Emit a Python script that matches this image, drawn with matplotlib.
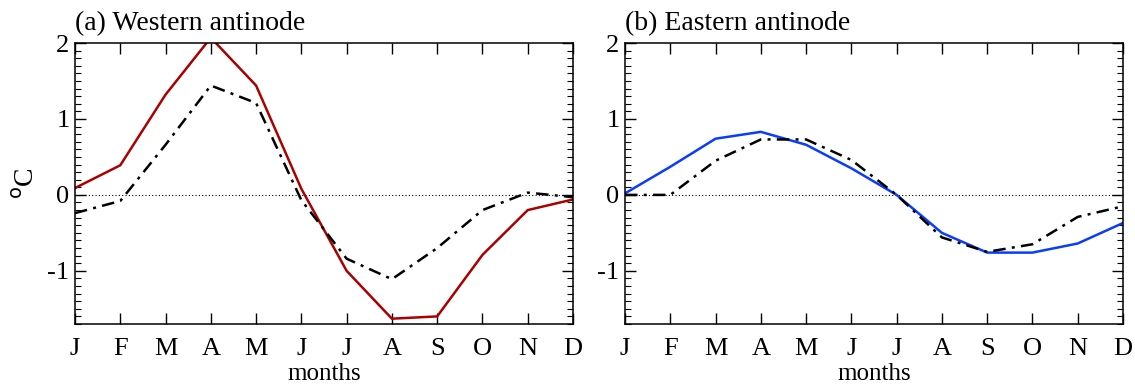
import numpy as np
import matplotlib
matplotlib.use("Agg")
import matplotlib.pyplot as plt
from matplotlib.ticker import MultipleLocator

plt.rcParams['font.family'] = ['Liberation Serif', 'DejaVu Serif']

months = ['J', 'F', 'M', 'A', 'M', 'J', 'J', 'A', 'S', 'O', 'N', 'D']

# western antinode
west_obs = [0.09, 0.39, 1.32, 2.07, 1.44, 0.08, -1.0, -1.63, -1.60, -0.79, -0.20, -0.06]
west_mod = [-0.24, -0.08, 0.66, 1.44, 1.21, -0.07, -0.84, -1.11, -0.70, -0.20, 0.03, -0.03]
# eastern antinode
east_obs = [0.02, 0.37, 0.74, 0.83, 0.66, 0.35, 0.0, -0.50, -0.76, -0.76, -0.64, -0.37]
east_mod = [0.0, 0.0, 0.45, 0.73, 0.73, 0.46, 0.0, -0.56, -0.75, -0.65, -0.29, -0.15]

titles = ['(a) Western antinode', '(b) Eastern antinode']
obs_colors = ['#aa0000', '#0a3cff']

fig = plt.figure(figsize=(11.35, 3.9), dpi=100)
ax1 = fig.add_axes([75/1135, 1-324/390, 498/1135, 281/390])
ax2 = fig.add_axes([625/1135, 1-324/390, 498/1135, 281/390])

x = np.arange(12)
for ax, obs, mod, t, c in zip([ax1, ax2], [west_obs, east_obs], [west_mod, east_mod], titles, obs_colors):
    ax.axhline(0, color='k', ls=(0, (1, 2)), lw=0.8)
    ax.plot(x, obs, color=c, lw=1.8)
    ax.plot(x, mod, color='k', lw=1.8, dashes=(5, 2.5, 1.2, 2.5))
    ax.set_xlim(0, 11)
    ax.set_ylim(-1.7, 2.0)
    ax.set_xticks(x)
    ax.set_xticklabels(months)
    ax.set_yticks([-1, 0, 1, 2])
    ax.set_yticklabels(['-1', '0', '1', '2'])
    ax.yaxis.set_minor_locator(MultipleLocator(0.1))
    ax.tick_params(direction='in', top=True, right=True, labelsize=19, length=8, width=1, pad=10)
    ax.tick_params(which='minor', direction='in', right=True, length=4, width=0.8)
    ax.tick_params(axis='y', pad=4)
    for s in ax.spines.values():
        s.set_linewidth(1.1)
    ax.set_xlabel('months', fontsize=18, labelpad=2)
    ax.set_title(t, loc='left', fontsize=20, pad=9)

ax1.set_ylabel('$^{\\rm o}$C', fontsize=20, labelpad=5)

fig.savefig('out.png', dpi=100)
